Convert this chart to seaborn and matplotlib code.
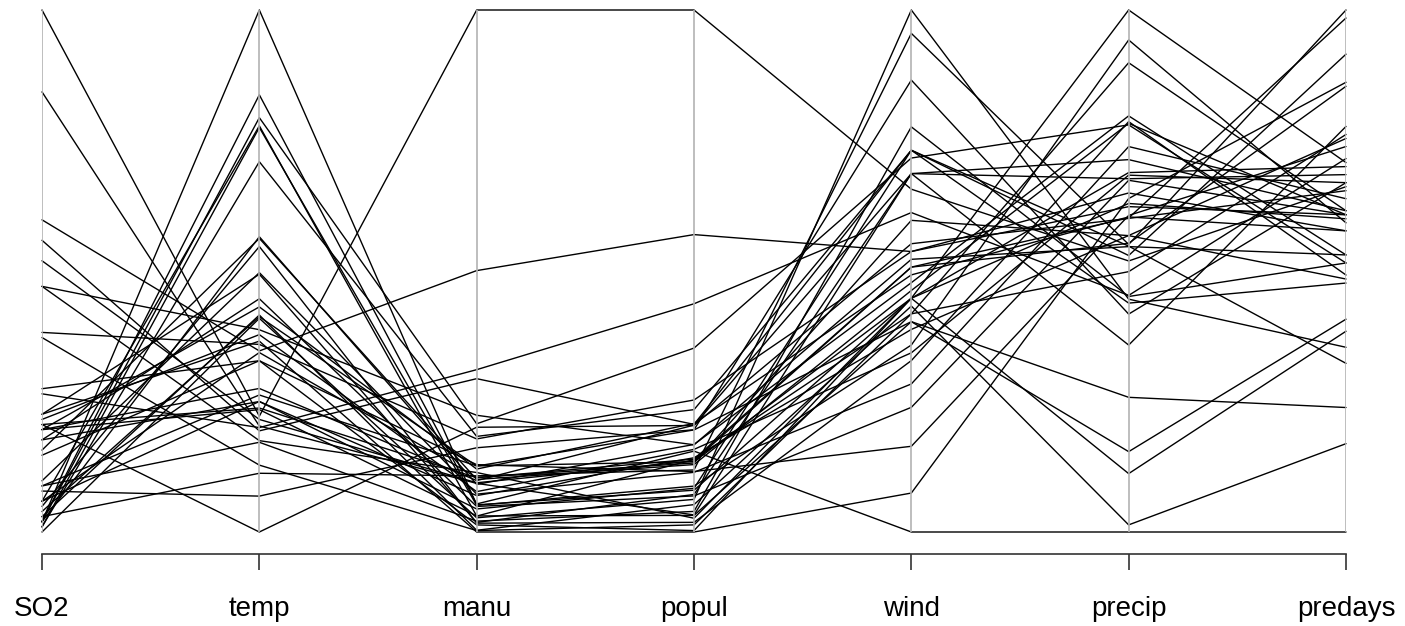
import numpy as np
import pandas as pd
import matplotlib
matplotlib.use("Agg")
import matplotlib.pyplot as plt
import seaborn as sns

variables = ["SO2", "temp", "manu", "popul", "wind", "precip", "predays"]

cities = ["Albany", "Albuquerque", "Atlanta", "Baltimore", "Buffalo", "Charleston",
          "Chicago", "Cincinnati", "Cleveland", "Columbus", "Dallas", "Denver",
          "Des Moines", "Detroit", "Hartford", "Houston", "Indianapolis",
          "Jacksonville", "Kansas City", "Little Rock", "Louisville", "Memphis",
          "Miami", "Milwaukee", "Minneapolis", "Nashville", "New Orleans",
          "Norfolk", "Omaha", "Philadelphia", "Phoenix", "Pittsburgh",
          "Providence", "Richmond", "Salt Lake City", "San Francisco", "Seattle",
          "St. Louis", "Washington", "Wichita", "Wilmington"]

SO2 = [46, 11, 24, 47, 11, 31, 110, 23, 65, 26, 9, 17, 17, 35, 56, 10, 28, 14, 14,
       13, 30, 10, 10, 16, 29, 18, 9, 31, 14, 69, 10, 61, 94, 26, 28, 12, 29, 56,
       28, 8, 36]
temp = [47.6, 56.8, 61.5, 55.0, 47.1, 55.2, 50.6, 54.0, 49.7, 51.5, 66.2, 51.9,
        49.0, 49.9, 49.1, 68.9, 52.3, 68.4, 54.5, 61.0, 55.6, 61.6, 75.5, 45.7,
        43.5, 59.4, 68.3, 59.3, 51.5, 54.6, 70.3, 50.4, 50.0, 57.8, 51.0, 56.7,
        51.1, 55.9, 57.3, 56.6, 54.0]
manu = [44, 46, 368, 625, 391, 35, 3344, 462, 1007, 266, 641, 454, 104, 1064, 412,
        721, 361, 136, 381, 91, 291, 337, 207, 569, 699, 275, 204, 96, 181, 1692,
        213, 347, 343, 197, 137, 453, 379, 775, 434, 125, 80]
popul = [116, 244, 497, 905, 463, 71, 3369, 453, 751, 540, 844, 515, 201, 1513,
         158, 1233, 746, 529, 507, 132, 593, 624, 335, 717, 744, 448, 361, 308,
         347, 1950, 582, 520, 179, 299, 176, 716, 531, 622, 757, 277, 80]
wind = [8.8, 8.9, 9.1, 9.6, 12.4, 6.5, 10.4, 7.1, 10.9, 8.6, 10.9, 9.0, 11.2, 10.1,
        9.0, 10.8, 9.7, 8.8, 10.0, 8.2, 8.3, 9.2, 9.0, 11.8, 10.6, 7.9, 8.4, 10.6,
        10.9, 9.6, 6.0, 9.4, 10.6, 7.6, 8.7, 8.7, 9.4, 9.5, 9.3, 12.7, 9.0]
precip = [33.36, 7.77, 48.34, 41.31, 36.11, 40.75, 34.44, 39.04, 34.99, 37.01,
          35.94, 12.95, 30.85, 30.96, 43.37, 48.19, 38.74, 54.47, 37.00, 48.52,
          43.11, 49.10, 59.80, 29.07, 25.94, 46.00, 56.77, 44.68, 30.18, 39.93,
          7.05, 36.22, 42.75, 42.59, 15.17, 20.66, 38.79, 35.89, 38.89, 30.58, 40.25]
predays = [135, 58, 115, 111, 166, 148, 122, 132, 155, 134, 78, 86, 103, 129, 127,
           103, 121, 116, 99, 100, 123, 105, 128, 123, 137, 119, 113, 116, 98, 115,
           36, 147, 125, 115, 89, 67, 164, 105, 111, 82, 114]

wide = pd.DataFrame({"SO2": SO2, "temp": temp, "manu": manu, "popul": popul,
                     "wind": wind, "precip": precip, "predays": predays},
                    index=cities)
scaled = (wide - wide.min()) / (wide.max() - wide.min())
long = scaled.reset_index(names="city").melt(id_vars="city", var_name="variable",
                                             value_name="value")
long["pos"] = long["variable"].map({v: i for i, v in enumerate(variables)})

sns.set_style("white")
plt.rcParams["font.family"] = ["Liberation Sans", "DejaVu Sans"]

W, H = 1405, 626
fig = plt.figure(figsize=(W / 100, H / 100), dpi=100)
top_px, bot_px = 5, 554
ax = fig.add_axes([42 / W, (H - bot_px) / H, (1346 - 42) / W, (bot_px - top_px) / H])

sns.lineplot(data=long, x="pos", y="value", units="city", estimator=None,
             sort=False, color="black", linewidth=1.0, ax=ax, legend=False)

ax.vlines(range(len(variables)), 0, 1, color="#B3B3B3", linewidth=1.2, zorder=3)

ax.set_xlim(0, len(variables) - 1)
ax.set_ylim(-(bot_px - 532) / 522, 1 + (10 - top_px) / 522)
ax.set_xticks(range(len(variables)))
ax.set_xticklabels(variables, fontsize=20)
ax.set_yticks([])
ax.set_xlabel("")
ax.set_ylabel("")
for s in ["top", "right", "left"]:
    ax.spines[s].set_visible(False)
ax.spines["bottom"].set_color("#333333")
ax.spines["bottom"].set_linewidth(1.2)
ax.tick_params(axis="x", bottom=True, direction="out", length=11.5, width=1.2,
               color="#333333", pad=19, labelcolor="black")
for line in ax.lines:
    line.set_clip_on(False)

fig.savefig("out.png", dpi=100, facecolor="white")
